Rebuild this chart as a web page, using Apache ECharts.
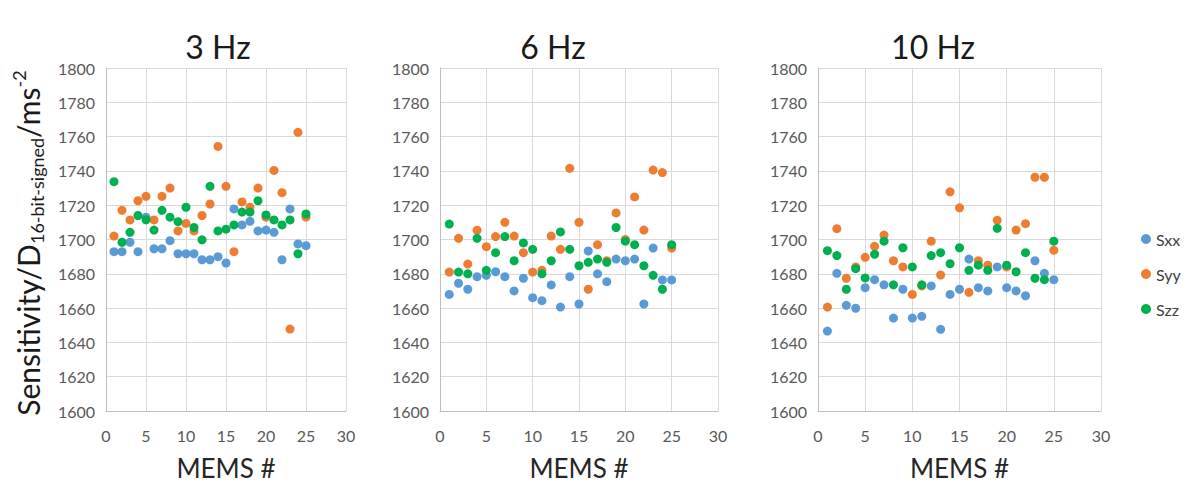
<!DOCTYPE html>
<html>
<head>
<meta charset="utf-8">
<script src="https://cdn.jsdelivr.net/npm/echarts@6/dist/echarts.min.js"></script>
<style>
html,body{margin:0;padding:0;background:#fff;}
#c{width:1197px;height:486px;}
</style>
</head>
<body>
<div id="c"></div>
<script>
const mems = [1,2,3,4,5,6,7,8,9,10,11,12,13,14,15,16,17,18,19,20,21,22,23,24,25];
const panelTitles = ['3 Hz','6 Hz','10 Hz'];
const seriesNames = ['Sxx','Syy','Szz'];
const xTicks = [0,5,10,15,20,25,30];
const yTicks = [1600,1620,1640,1660,1680,1700,1720,1740,1760,1780,1800];

const sxx3 = [1692.9,1692.9,1698.4,1692.9,1713,1694.6,1694.6,1699.3,1691.7,1691.7,1691.7,1688.2,1688.2,1690,1686.3,1717.8,1708.5,1710.6,1705,1705.5,1704.2,1688.2,1717.8,1697.4,1696.4];
const syy3 = [1702,1717,1711.4,1722.6,1725.2,1711.4,1725.2,1730,1705,1709.4,1705,1714,1720.7,1754.3,1731,1692.9,1721.9,1718.8,1730,1713,1740.3,1727.3,1647.8,1762.5,1713.1];
const szz3 = [1733.7,1698.4,1704.2,1714,1711.5,1705.5,1717,1713,1710.4,1718.8,1707,1699.8,1731,1705,1706,1708.5,1716,1716,1722.6,1714.3,1711.4,1708.5,1711.4,1691.7,1714.9];

const sxx6 = [1668,1674.5,1671,1678.3,1679.1,1681.2,1678.3,1670,1677.4,1666.1,1664.3,1673.5,1660.6,1678.3,1662.4,1693.3,1680,1675.4,1688.6,1687.6,1688.6,1662.4,1695,1676.4,1676.4];
const syy6 = [1681,1700.7,1685.7,1705.4,1695.8,1701.7,1710,1702,1692.3,1681,1682,1702,1694.3,1741.5,1710,1671,1697,1687.6,1715.5,1700,1724.8,1705.5,1740.5,1739,1695];
const szz6 = [1709,1681,1680,1700.7,1682,1692.3,1701.7,1687.6,1698,1694.3,1680,1687.6,1704.4,1694.3,1684.7,1686.7,1688.6,1686.7,1707,1699,1697,1684.7,1679.1,1671,1697];

const sxx10 = [1646.6,1680.3,1661.6,1659.9,1671.9,1676.6,1673.6,1654.2,1671,1654.2,1655.2,1672.9,1647.6,1668,1671,1688.6,1671.9,1670,1684,1671.9,1670,1667.2,1687.6,1680.3,1676.6];
const syy10 = [1660.6,1706.3,1677.4,1684,1689.6,1696,1702.6,1687.6,1684,1668,1672.9,1699,1679.3,1727.8,1718.5,1669.2,1687.6,1685,1711.2,1684,1705.5,1709.2,1736.3,1736.3,1693.8];
const szz10 = [1693.5,1690.6,1671,1683,1677.6,1691.4,1699,1673.6,1695.2,1684,1673.6,1690.6,1692.3,1685.9,1695.2,1682,1685,1682,1706.5,1685,1681.2,1692.3,1677.4,1676.6,1699];

const panels = [[sxx3,syy3,szz3],[sxx6,syy6,szz6],[sxx10,syy10,szz10]];
const colors = ['#5B9BD5','#ED7D31','#00B050'];
const FONT = 'Lato, "Open Sans", sans-serif';

const grids = [
  {left:106, top:68, width:240, height:343},
  {left:440, top:68, width:278, height:343},
  {left:818, top:68, width:283, height:343}
];
const titleX = [218, 553, 933];

const gridLine = {show:true, lineStyle:{color:'#d9d9d9', width:1}};
const xAxes = grids.map((g,i)=>({
  type:'value', gridIndex:i, min:xTicks[0], max:xTicks[xTicks.length-1], interval:5,
  axisLine:{show:true, lineStyle:{color:'#bfbfbf'}}, axisTick:{show:false},
  splitLine:gridLine,
  axisLabel:{color:'#595959', fontSize:16, fontFamily:FONT, margin:16, formatter:v=>String(v)},
  name:'MEMS #', nameLocation:'middle', nameGap:44,
  nameTextStyle:{color:'#262626', fontSize:26, fontFamily:FONT}
}));
const yAxes = grids.map((g,i)=>({
  type:'value', gridIndex:i, min:yTicks[0], max:yTicks[yTicks.length-1], interval:20,
  axisLine:{show:true, lineStyle:{color:'#bfbfbf'}}, axisTick:{show:false},
  splitLine:gridLine,
  axisLabel:{color:'#595959', fontSize:16, fontFamily:FONT, margin:11, formatter:v=>String(v)}
}));

const series = [];
panels.forEach((p,i)=>{
  p.forEach((vals,k)=>{
    series.push({
      name:seriesNames[k], type:'scatter', xAxisIndex:i, yAxisIndex:i,
      symbol:'circle', symbolSize:9,
      itemStyle:{color:colors[k], opacity:1},
      data: mems.map((m,j)=>[m, vals[j]]),
      z: 2+k, silent:true
    });
  });
});

const graphics = panelTitles.map((t,i)=>({
  type:'text', x:titleX[i], y:46,
  style:{text:t, align:'center', verticalAlign:'middle', fill:'#1a1a1a', font:'32px '+FONT}
}));
graphics.push({
  type:'text', x:28, y:243, rotation:Math.PI/2,
  style:{
    text:'{a|Sensitivity/D}{s|16-bit-signed}{a|/ms}{p|-2}',
    align:'center', verticalAlign:'middle', fill:'#1a1a1a',
    rich:{
      a:{fontSize:30, fontFamily:'Lato', lineHeight:36, fill:'#1a1a1a'},
      s:{fontSize:18, fontFamily:'Lato', lineHeight:18, verticalAlign:'bottom', fill:'#1a1a1a'},
      p:{fontSize:18, fontFamily:'Lato', lineHeight:18, verticalAlign:'top', fill:'#1a1a1a'}
    }
  }
});

const chart = echarts.init(document.getElementById('c'), null, {renderer:'svg'});
chart.setOption({
  animation:false,
  backgroundColor:'#ffffff',
  grid:grids,
  xAxis:xAxes,
  yAxis:yAxes,
  legend:{
    data:seriesNames, orient:'vertical', left:1136, top:226, itemGap:19,
    icon:'circle', itemWidth:10, itemHeight:10,
    textStyle:{color:'#404040', fontSize:16, fontFamily:FONT}
  },
  graphic:graphics,
  series:series
});
</script>
</body>
</html>
